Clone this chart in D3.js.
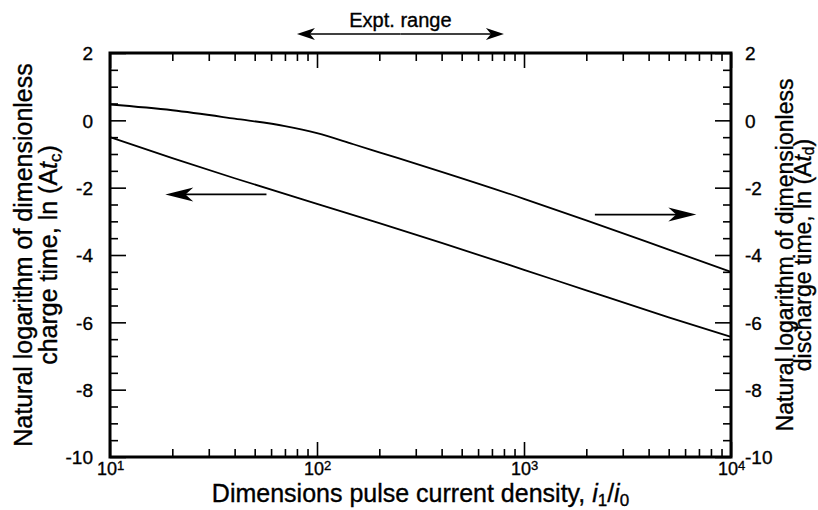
<!DOCTYPE html>
<html>
<head>
<meta charset="utf-8">
<script src="https://cdn.jsdelivr.net/npm/d3@7"></script>
<style>
  html, body { margin: 0; padding: 0; background: #fff; }
  svg { display: block; font-family: "Liberation Sans", Arial, Helvetica, sans-serif; }
  svg text { stroke: #000; stroke-width: 0.35px; }
</style>
</head>
<body>
<svg id="chart" width="818" height="510"></svg>
<script>
// ---- data ----
const xMajorTicks = [10, 100, 1000, 10000];
const xTickExponents = ["1", "2", "3", "4"];
const yMajorTicks = [2, 0, -2, -4, -6, -8, -10];

// lower curve: charge time (left axis)
const chargeX = [10, 20, 40, 100, 200, 400, 1000, 2000, 5000, 10000];
const chargeY = [-0.50, -1.12, -1.72, -2.48, -3.05, -3.64, -4.44, -5.05, -5.85, -6.43];

// upper curve: discharge time (right axis)
const dischargeX = [10, 20, 40, 70, 100, 150, 200, 400, 1000, 2000, 5000, 10000];
const dischargeY = [0.47, 0.30, 0.05, -0.17, -0.38, -0.71, -0.95, -1.53, -2.33, -2.97, -3.84, -4.50];

// annotations
const exptRange = [80, 800];
const chargeArrow = { from: 57, to: 18.5, y: -2.2 };
const dischargeArrow = { from: 2200, to: 6800, y: -2.8 };

// ---- layout ----
const L = 110, R = 731, T = 53, B = 457;
const svg = d3.select("#chart");
const x = d3.scaleLog().domain([10, 10000]).range([L, R]);
const y = d3.scaleLinear().domain([-10, 2]).range([B, T]);

const minorX = [];
[10, 100, 1000].forEach(d => { for (let k = 2; k <= 9; k++) minorX.push(d * k); });
const minorY = d3.range(-10, 2.01, 0.5).filter(v => Math.abs(v % 2) > 0.01);

function styleAxis(g) {
  g.select(".domain").remove();
  g.selectAll(".tick line").attr("stroke", "#000").attr("stroke-width", 1.6);
}

// minor ticks
svg.append("g").attr("transform", `translate(${L},0)`)
  .call(d3.axisLeft(y).tickValues(minorY).tickSize(-8).tickFormat(""))
  .call(styleAxis);
svg.append("g").attr("transform", `translate(${R},0)`)
  .call(d3.axisRight(y).tickValues(minorY).tickSize(-8).tickFormat(""))
  .call(styleAxis);
svg.append("g").attr("transform", `translate(0,${B})`)
  .call(d3.axisBottom(x).tickValues(minorX).tickSize(-8).tickFormat(""))
  .call(styleAxis);
svg.append("g").attr("transform", `translate(0,${T})`)
  .call(d3.axisTop(x).tickValues(minorX).tickSize(-8).tickFormat(""))
  .call(styleAxis);

// major ticks
const fmtY = d => (d < 0 ? "-" : "") + Math.abs(d);
const gl = svg.append("g").attr("transform", `translate(${L},0)`)
  .call(d3.axisLeft(y).tickValues(yMajorTicks).tickSize(-16).tickPadding(17).tickFormat(fmtY))
  .call(styleAxis);
gl.selectAll("text").attr("font-size", 19).attr("fill", "#000").attr("dy", "0.36em");

const gr = svg.append("g").attr("transform", `translate(${R},0)`)
  .call(d3.axisRight(y).tickValues(yMajorTicks).tickSize(-16).tickPadding(14).tickFormat(fmtY))
  .call(styleAxis);
gr.selectAll("text").attr("font-size", 19).attr("fill", "#000").attr("dy", "0.36em");

const gb = svg.append("g").attr("transform", `translate(0,${B})`)
  .call(d3.axisBottom(x).tickValues(xMajorTicks).tickSize(-15).tickFormat(""))
  .call(styleAxis);
gb.selectAll(".tick").append("text")
  .attr("y", 18).attr("fill", "#000").attr("font-size", 18).attr("text-anchor", "middle")
  .each(function (d, i) {
    const t = d3.select(this);
    t.append("tspan").text("10");
    t.append("tspan").attr("font-size", 13).attr("dy", -5).text(xTickExponents[i]);
  });

svg.append("g").attr("transform", `translate(0,${T})`)
  .call(d3.axisTop(x).tickValues(xMajorTicks).tickSize(-15).tickFormat(""))
  .call(styleAxis);

// frame
svg.append("rect").attr("x", L).attr("y", T).attr("width", R - L).attr("height", B - T)
  .attr("fill", "none").attr("stroke", "#000").attr("stroke-width", 3);

// curves
const line = d3.line().x(d => x(d[0])).y(d => y(d[1])).curve(d3.curveMonotoneX);
svg.append("path").datum(chargeX.map((v, i) => [v, chargeY[i]]))
  .attr("d", line).attr("fill", "none").attr("stroke", "#000").attr("stroke-width", 1.8);
svg.append("path").datum(dischargeX.map((v, i) => [v, dischargeY[i]]))
  .attr("d", line).attr("fill", "none").attr("stroke", "#000").attr("stroke-width", 1.8);

// arrows
function arrowHead(tx, ty, dir, len, hw) {
  const bx = tx - dir * len, nx = tx - dir * len * 0.72;
  return `M${tx},${ty} L${bx},${ty - hw} L${nx},${ty} L${bx},${ty + hw} Z`;
}
function arrow(x1, x2, yy, len, hw, sw) {
  const dir = x2 > x1 ? 1 : -1;
  svg.append("line").attr("x1", x1).attr("x2", x2 - dir * len * 0.6).attr("y1", yy).attr("y2", yy)
    .attr("stroke", "#000").attr("stroke-width", sw);
  svg.append("path").attr("d", arrowHead(x2, yy, dir, len, hw)).attr("fill", "#000");
}
arrow(x(chargeArrow.from), x(chargeArrow.to), y(chargeArrow.y), 28, 7, 1.7);
arrow(x(dischargeArrow.from), x(dischargeArrow.to), y(dischargeArrow.y), 28, 7, 1.7);

// Expt. range double arrow
const ey = 34;
const emid = (x(exptRange[0]) + x(exptRange[1])) / 2;
arrow(emid, x(exptRange[0]), ey, 18, 6, 1.5);
arrow(emid, x(exptRange[1]), ey, 18, 6, 1.5);
svg.append("text").attr("x", emid).attr("y", 27).attr("text-anchor", "middle")
  .attr("font-size", 20).attr("fill", "#000").text("Expt. range");

// x title
const xt = svg.append("text").attr("x", (L + R) / 2).attr("y", 502).attr("text-anchor", "middle")
  .attr("font-size", 25).attr("fill", "#000");
xt.append("tspan").text("Dimensions pulse current density, ");
xt.append("tspan").attr("font-style", "italic").text("i");
xt.append("tspan").attr("font-size", 17).attr("dy", 4).text("1");
xt.append("tspan").attr("dy", -4).text("/");
xt.append("tspan").attr("font-style", "italic").text("i");
xt.append("tspan").attr("font-size", 17).attr("dy", 4).text("0");

// y titles
function yTitle(lines, sub, fs, sdy) {
  const g = svg.append("g").attr("transform", `translate(0,${(T + B) / 2})`);
  lines.forEach((ln, i) => {
    const t = g.append("text").attr("transform", `translate(${ln.x},0) rotate(-90)`)
      .attr("text-anchor", "middle").attr("font-size", fs).attr("fill", "#000");
    if (i === 0) t.text(ln.text);
    else {
      t.append("tspan").text(ln.text);
      t.append("tspan").attr("font-style", "italic").text("t");
      t.append("tspan").attr("font-size", fs * 0.68).attr("dy", sdy).text(sub);
      t.append("tspan").attr("dy", -sdy).text(")");
    }
  });
}
yTitle([
  { x: 32, text: "Natural logarithm of dimensionless" },
  { x: 57, text: "charge time, ln (A" }
], "c", 25, 4);
yTitle([
  { x: 793, text: "Natural logarithm of dimensionless" },
  { x: 811, text: "discharge time, ln (A" }
], "d", 23, 3);
</script>
</body>
</html>
